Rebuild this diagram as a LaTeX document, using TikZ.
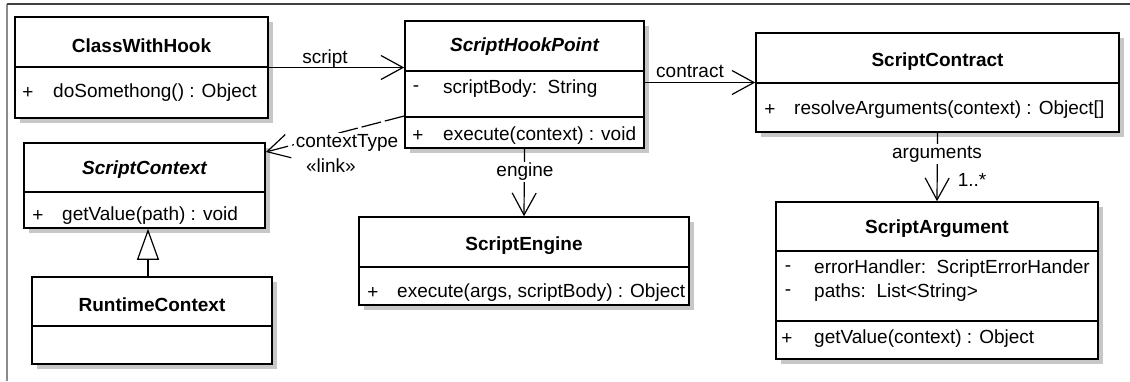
\documentclass[tikz,border=0pt]{standalone}
\usepackage{fontspec}
\setmainfont{Liberation Sans}
\usetikzlibrary{arrows.meta,shadows,positioning}

\tikzset{
  classbox/.style={draw, line width=1.6pt, fill=white, inner sep=0pt,
    drop shadow={shadow xshift=5pt, shadow yshift=-5pt, fill=black!22, opacity=1}},
  sep/.style={line width=1.3pt},
  title/.style={inner sep=0pt, font=\fontsize{19}{22}\selectfont\bfseries},
  member/.style={anchor=west, inner sep=0pt, font=\fontsize{19}{22}\selectfont},
  vis/.style={inner sep=0pt, font=\fontsize{19}{22}\selectfont},
  role/.style={inner sep=1.5pt, fill=white, font=\fontsize{19}{22}\selectfont},
  assoc/.style={line width=1.2pt, -{Straight Barb[length=22pt,width=24pt]}},
  inherit/.style={line width=1.2pt, -{Triangle[length=31pt,width=22pt,fill=white]}},
}

\begin{document}
\begin{tikzpicture}[x=1pt, y=-1pt]
  \useasboundingbox (0,0) rectangle (1130,381);
  % frame of the canvas
  \draw[line width=1.2pt, black!45] (7,381) -- (7,4);
  \draw[line width=1.2pt, black!75] (7,4) -- (1130,4);

  % ClassWithHook
  \node[classbox, minimum width=253pt, minimum height=101pt] (hook) at (141.5,67.5) {};
  \draw[sep] (hook.west |- 0,67) -- (hook.east |- 0,67);
  \node[title] (hookname) at (141.5,46) {ClassWithHook};
  \node[vis] (hookvis) at (28,93) {+};
  \node[member] (hookop) at (53,93) {doSomethong() : Object};

  % ScriptHookPoint
  \node[classbox, minimum width=239pt, minimum height=127pt] (hookpt) at (524.5,84.5) {};
  \draw[sep] (hookpt.west |- 0,71) -- (hookpt.east |- 0,71);
  \draw[sep] (hookpt.west |- 0,117) -- (hookpt.east |- 0,117);
  \node[title] (hookptname) at (524.5,47) {\itshape ScriptHookPoint};
  \node[vis] (hookptvis1) at (416,89) {-};
  \node[member] (hookptattr) at (443,89) {scriptBody:\ \ String};
  \node[vis] (hookptvis2) at (418,136) {+};
  \node[member] (hookptop) at (443,136) {execute(context) : void};

  % ScriptContract
  \node[classbox, minimum width=363pt, minimum height=99pt] (contract) at (937.5,82.5) {};
  \draw[sep] (contract.west |- 0,83) -- (contract.east |- 0,83);
  \node[title] (contractname) at (937.5,62) {ScriptContract};
  \node[vis] (contractvis) at (770,110) {+};
  \node[member] (contractop) at (794,110) {resolveArguments(context) : Object[]};

  % ScriptContext
  \node[classbox, minimum width=241pt, minimum height=85pt] (context) at (144.5,185.5) {};
  \draw[sep] (context.west |- 0,192) -- (context.east |- 0,192);
  \node[title] (contextname) at (144.5,170) {\itshape ScriptContext};
  \node[vis] (contextvis) at (38,216) {+};
  \node[member] (contextop) at (62,216) {getValue(path) : void};

  % RuntimeContext
  \node[classbox, minimum width=240pt, minimum height=87pt] (runtime) at (152,320.5) {};
  \draw[sep] (runtime.west |- 0,326) -- (runtime.east |- 0,326);
  \node[title] (runtimename) at (152,305) {RuntimeContext};

  % ScriptEngine
  \node[classbox, minimum width=330pt, minimum height=88pt] (engine) at (524,261) {};
  \draw[sep] (engine.west |- 0,267) -- (engine.east |- 0,267);
  \node[title] (enginename) at (524,246) {ScriptEngine};
  \node[vis] (enginevis) at (373,293) {+};
  \node[member] (engineop) at (397,293) {execute(args, scriptBody) : Object};

  % ScriptArgument
  \node[classbox, minimum width=322pt, minimum height=157pt] (argument) at (937,280.5) {};
  \draw[sep] (argument.west |- 0,251) -- (argument.east |- 0,251);
  \draw[sep] (argument.west |- 0,321) -- (argument.east |- 0,321);
  \node[title] (argumentname) at (937,229) {ScriptArgument};
  \node[vis] (argumentvis1) at (788,269) {-};
  \node[member] (argumentattr1) at (814,269) {errorHandler:\ \ ScriptErrorHander};
  \node[vis] (argumentvis2) at (788,293) {-};
  \node[member] (argumentattr2) at (814,293) {paths:\ \ List<String>};
  \node[vis] (argumentvis3) at (787,339) {+};
  \node[member] (argumentop) at (814,339) {getValue(context) : Object};

  % associations
  \draw[assoc] (hook.east) -- (hook.east -| hookpt.west);
  \node[role, fill=none] (scriptrole) at (325,59) {script};
  \draw[assoc] (contract.west -| hookpt.east) -- (contract.west);
  \node[role, fill=none] (contractrole) at (690,71) {contract};
  \draw[assoc] (hookpt.south) -- (engine.north);
  \node[role] (enginerole) at (525,172) {engine};
  \draw[assoc] (contract.south) -- (argument.north);
  \node[role] (argumentsrole) at (937,154) {arguments};
  \node[role, fill=none] (argumentsmult) at (972,180) {1..*};
  \draw[assoc, dash pattern=on 20pt off 4pt] (hookpt.west |- 0,116) -- (context.east |- 0,152);
  \node[role] (ctxrole) at (347,143) {contextType};
  \node[role, fill=none] (ctxlink) at (331,166) {«link»};

  % generalization
  \draw[inherit] (runtime.north -| 148,0) -- (context.south -| 148,0);
\end{tikzpicture}
\end{document}
